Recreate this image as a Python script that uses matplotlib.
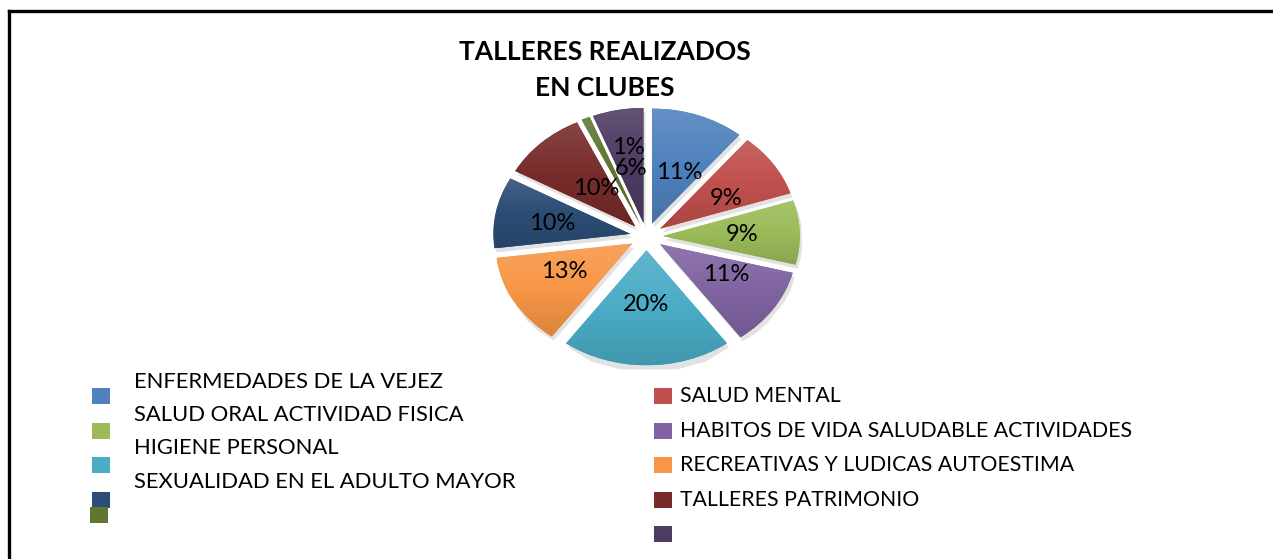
import numpy as np
import matplotlib
matplotlib.use("Agg")
import matplotlib.pyplot as plt
from matplotlib.colors import LinearSegmentedColormap, to_rgb
from matplotlib.patches import Rectangle
from matplotlib.lines import Line2D

# chart data
title = "TALLERES REALIZADOS\nEN CLUBES"
values = [11, 9, 9, 11, 20, 13, 10, 10, 1, 6]
colors = ["#4F81BD", "#C0504D", "#9BBB59", "#8064A2", "#4BACC6",
          "#F79646", "#2C4D75", "#772C2A", "#5F7530", "#4D3B62"]
# legend text as it appears (wrapped oddly in the original)
left_texts = ["ENFERMEDADES DE LA VEJEZ", "SALUD ORAL ACTIVIDAD FISICA",
              "HIGIENE PERSONAL", "SEXUALIDAD EN EL ADULTO MAYOR"]
right_texts = ["SALUD MENTAL", "HABITOS DE VIDA SALUDABLE ACTIVIDADES",
               "RECREATIVAS Y LUDICAS AUTOESTIMA", "TALLERES PATRIMONIO", ""]

W, H = 1273, 559
plt.rcParams["font.family"] = ["Lato", "DejaVu Sans"]

fig = plt.figure(figsize=(W / 100, H / 100), dpi=100)

def fx(px):
    return px / W

def fy(py):
    return 1 - py / H

# pie axes, stretched to get the flattened look
ax = fig.add_axes([fx(468.5), fy(386), 356 / W, 299 / H])
explode = [0.12] * len(values)
wedges, _, autotexts = ax.pie(values, colors=colors, startangle=90, counterclock=False,
                              explode=explode, autopct="%1.0f%%", pctdistance=0.58,
                              labeldistance=None, textprops={"fontsize": 17, "color": "black"},
                              wedgeprops={"linewidth": 0})

def shade(c, f):
    r, g, b = to_rgb(c)
    if f > 0:
        return (r + (1 - r) * f, g + (1 - g) * f, b + (1 - b) * f)
    return (r * (1 + f), g * (1 + f), b * (1 + f))

grad = np.linspace(0, 1, 128).reshape(-1, 1)
for w, c in zip(wedges, colors):
    # soft shadow under each slice
    sh = plt.Polygon(w.get_path().vertices + np.array([0.015, -0.035]), closed=True,
                     facecolor="0.75", edgecolor="none", alpha=0.45, zorder=0.5)
    ax.add_patch(sh)
    ext = w.get_path().get_extents()
    cmap = LinearSegmentedColormap.from_list("g", [shade(c, -0.12), c, shade(c, 0.12)])
    im = ax.imshow(grad, extent=[ext.x0, ext.x1, ext.y0, ext.y1], origin="lower",
                   cmap=cmap, aspect="auto", zorder=1.5)
    im.set_clip_path(w)

# labels sit a bit flatter than the slices (3D look of the original)
for w, t in zip(wedges, autotexts):
    x, y = t.get_position()
    t.set_position((x, y * 0.85))
    t.set_zorder(5)

# the small slices at the top: labels crowd together like in the original
mid = np.deg2rad((wedges[7].theta1 + wedges[7].theta2) / 2)
cx, cy = wedges[7].center
autotexts[7].set_position((cx + 0.42 * np.cos(mid), cy + 0.45 * np.sin(mid)))
mid = np.deg2rad((wedges[8].theta1 + wedges[8].theta2) / 2)
cx, cy = wedges[8].center
autotexts[8].set_position((cx + 0.72 * np.cos(mid) + 0.2, cy + 0.72 * np.sin(mid)))
mid = np.deg2rad((wedges[9].theta1 + wedges[9].theta2) / 2)
cx, cy = wedges[9].center
autotexts[9].set_position((cx + 0.5 * np.cos(mid), cy + 0.48 * np.sin(mid)))

ax.set_xlim(-1.3, 1.3)
ax.set_ylim(-1.3, 1.3)
ax.set_aspect("auto")
ax.axis("off")

fig.text(fx(605), fy(70), title, ha="center", va="center", fontsize=19,
         fontweight="bold", linespacing=1.6)

# legend, left column
left_marker_y = [396, 431, 465, 500, 515]
left_marker_x = [92, 92, 92, 92, 90]
for c, yy, xx in zip(colors[0::2], left_marker_y, left_marker_x):
    fig.add_artist(Rectangle((fx(xx), fy(yy + 8)), 18 / W, 16 / H, transform=fig.transFigure,
                             facecolor=c, edgecolor="none"))
for i, t in enumerate(left_texts):
    fig.text(fx(134), fy(382 + i * 33.2), t, ha="left", va="center", fontsize=15.8)

# legend, right column
for i, (c, t) in enumerate(zip(colors[1::2], right_texts)):
    yy = 396 + i * 34.6
    fig.add_artist(Rectangle((fx(654), fy(yy + 8)), 18 / W, 16 / H, transform=fig.transFigure,
                             facecolor=c, edgecolor="none"))
    if t:
        fig.text(fx(680), fy(yy), t, ha="left", va="center", fontsize=15.3)

# border of the chart area (cut at right and bottom)
fig.add_artist(Line2D([fx(9), fx(9)], [0, fy(11)], color="black", linewidth=2.4,
                      transform=fig.transFigure, solid_capstyle="projecting"))
fig.add_artist(Line2D([fx(9), 1], [fy(11), fy(11)], color="black", linewidth=2.4,
                      transform=fig.transFigure, solid_capstyle="projecting"))

fig.savefig("out.png", dpi=100, facecolor="white")
